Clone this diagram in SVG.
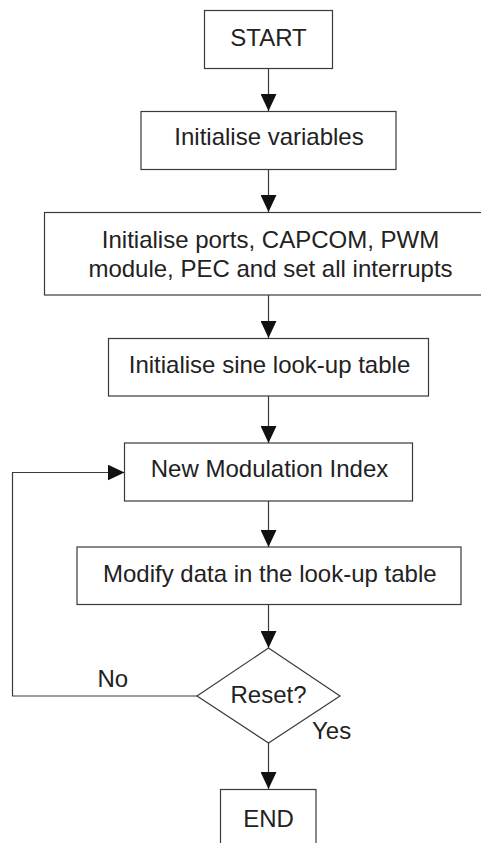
<svg xmlns="http://www.w3.org/2000/svg" width="481" height="843" viewBox="0 0 481 843">
<style>
.box{fill:#fff;stroke:#3a3a3a;stroke-width:1.2}
.t{font-family:"Liberation Sans",Arial,sans-serif;font-size:24px;fill:#222;text-anchor:middle}
.tl{font-family:"Liberation Sans",Arial,sans-serif;font-size:24px;fill:#222}
.c{fill:none;stroke:#3a3a3a;stroke-width:1.2}
</style>
<defs>
<marker id="ah" markerUnits="userSpaceOnUse" markerWidth="17" markerHeight="16" refX="17" refY="8" orient="auto">
<path d="M0,0 L17,8 L0,16 z" fill="#111"/>
</marker>
</defs>
<rect width="481" height="843" fill="#fff"/>
<g id="connectors">
<path class="c" d="M268.5,68 V111" marker-end="url(#ah)"/>
<path class="c" d="M268.5,169.5 V212" marker-end="url(#ah)"/>
<path class="c" d="M268.5,295 V338" marker-end="url(#ah)"/>
<path class="c" d="M268.5,396 V443" marker-end="url(#ah)"/>
<path class="c" d="M268.5,501 V547" marker-end="url(#ah)"/>
<path class="c" d="M268.5,604.5 V648" marker-end="url(#ah)"/>
<path class="c" d="M268.5,743 V789" marker-end="url(#ah)"/>
<path class="c" d="M197,696 H12.5 V472.5 H124.5" marker-end="url(#ah)"/>
<text class="tl" x="97.5" y="687">No</text>
<text class="tl" x="312" y="739">Yes</text>
</g>
<g id="start">
<rect class="box" x="204.5" y="10.5" width="128" height="58"/>
<text class="t" x="268.5" y="46">START</text>
</g>
<g id="initvars">
<rect class="box" x="141" y="111.5" width="255" height="58"/>
<text class="t" x="269" y="145">Initialise variables</text>
</g>
<g id="initports">
<rect class="box" x="44.5" y="212.5" width="448" height="82.5"/>
<text class="t" x="270.5" y="248">Initialise ports, CAPCOM, PWM</text>
<text class="t" x="270.5" y="276.7">module, PEC and set all interrupts</text>
</g>
<g id="sine">
<rect class="box" x="108.5" y="338.5" width="320" height="57.5"/>
<text class="t" x="269.5" y="373">Initialise sine look-up table</text>
</g>
<g id="nmi">
<rect class="box" x="124.5" y="443" width="288" height="58"/>
<text class="t" x="269.5" y="476.7">New Modulation Index</text>
</g>
<g id="modify">
<rect class="box" x="77" y="547" width="384" height="57.5"/>
<text class="t" x="269.8" y="581.7">Modify data in the look-up table</text>
</g>
<g id="reset">
<polygon class="box" points="268.5,648 340,696 268.5,743 197,696"/>
<text class="t" x="268.5" y="703.3">Reset?</text>
</g>
<g id="end">
<rect class="box" x="220.5" y="789.5" width="95.5" height="70"/>
<text class="t" x="268.5" y="826.7">END</text>
</g>
</svg>
